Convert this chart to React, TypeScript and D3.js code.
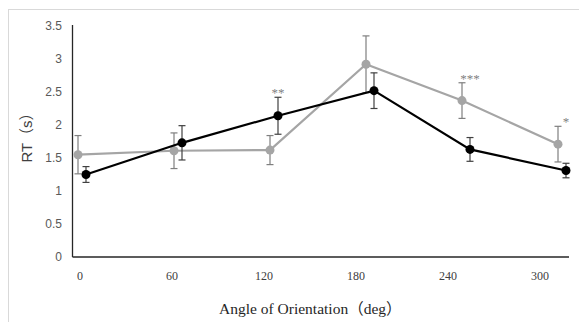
import * as d3 from "d3";
import React from "react";

// angle categories and tick labels
const angles = [0, 60, 120, 180, 240, 300];
const angleLabels = ["0", "60", "120", "180", "240", "300"];

// black series (mean RT and error)
const blackMeans = [1.25, 1.73, 2.14, 2.52, 1.63, 1.31];
const blackErr = [0.12, 0.26, 0.28, 0.27, 0.18, 0.11];

// grey series
const greyMeans = [1.55, 1.61, 1.62, 2.92, 2.37, 1.71];
const greyErr = [0.29, 0.27, 0.22, 0.43, 0.27, 0.27];

// significance marks
const sigAngles = [120, 240, 300];
const sigValues = [2.52, 2.73, 2.08];
const sigLabels = ["**", "***", "*"];

const yTicks = [0, 0.5, 1, 1.5, 2, 2.5, 3, 3.5];

const W = 579;
const H = 322;

const App: React.FC = () => {
  const plot = { left: 72.5, right: 569, top: 26, bottom: 257 };

  const y = d3.scaleLinear().domain([0, 3.5]).range([plot.bottom, plot.top]);
  const x = d3.scaleLinear().domain([0, 300]).range([82, 562]);
  const xLabel = d3.scalePoint<string>().domain(angleLabels).range([80, 540]);
  const shift = 2.5;

  const series = [
    { means: greyMeans, err: greyErr, dx: -shift, color: "#a5a5a5", errColor: "#7f7f7f" },
    { means: blackMeans, err: blackErr, dx: shift, color: "#000000", errColor: "#404040" },
  ];

  const line = d3
    .line<[number, number]>()
    .x((d) => x(d[0]))
    .y((d) => y(d[1]));

  return (
    <svg
      width={W}
      height={H}
      style={{ position: "absolute", left: 0, top: 0, background: "#fff" }}
    >
      <rect x={8.5} y={9.5} width={W} height={H} fill="#fff" stroke="#d9d9d9" />

      {/* y tick labels */}
      {yTicks.map((t) => (
        <text
          key={t}
          x={62}
          y={y(t)}
          dy="0.35em"
          textAnchor="end"
          fontFamily="Liberation Sans, Arial, sans-serif"
          fontSize={12}
          fill="#595959"
        >
          {t}
        </text>
      ))}

      {/* axes */}
      <line x1={plot.left} x2={plot.left} y1={plot.top - 1} y2={plot.bottom} stroke="#262626" strokeWidth={1.3} />
      <line x1={plot.left} x2={plot.right} y1={plot.bottom} y2={plot.bottom} stroke="#262626" strokeWidth={1.3} />

      {/* x tick labels */}
      {angleLabels.map((l) => (
        <text
          key={l}
          x={xLabel(l)}
          y={280}
          textAnchor="middle"
          fontFamily="Liberation Serif, Times New Roman, serif"
          fontSize={12}
          fill="#404040"
        >
          {l}
        </text>
      ))}

      {/* series */}
      {series.map((s, si) => {
        const pts: [number, number][] = angles.map((a, i) => [a + s.dx, s.means[i]]);
        return (
          <g key={si}>
            {pts.map((p, i) => {
              const cx = x(p[0]);
              const y1 = y(p[1] + s.err[i]);
              const y2 = y(p[1] - s.err[i]);
              return (
                <g key={i} stroke={s.errColor} strokeWidth={1.2}>
                  <line x1={cx} x2={cx} y1={y1} y2={y2} />
                  <line x1={cx - 3.5} x2={cx + 3.5} y1={y1} y2={y1} />
                  <line x1={cx - 3.5} x2={cx + 3.5} y1={y2} y2={y2} />
                </g>
              );
            })}
            <path d={line(pts) ?? ""} fill="none" stroke={s.color} strokeWidth={2.2} />
            {pts.map((p, i) => (
              <circle key={i} cx={x(p[0])} cy={y(p[1])} r={4.5} fill={s.color} />
            ))}
          </g>
        );
      })}

      {/* significance marks */}
      {sigAngles.map((a, i) => (
        <text
          key={a}
          x={x(a + shift)}
          y={y(sigValues[i]) + 6}
          textAnchor="middle"
          fontFamily="Liberation Serif, Times New Roman, serif"
          fontSize={13}
          fill="#7f7f7f"
        >
          {sigLabels[i]}
        </text>
      ))}

      {/* axis titles */}
      <text
        transform="translate(32, 134) rotate(-90)"
        textAnchor="middle"
        fontFamily="Liberation Sans, Noto Sans CJK SC, sans-serif"
        fontSize={15}
        fill="#404040"
      >
        RT（s）
      </text>
      <text
        x={219}
        y={314}
        textAnchor="start"
        fontFamily="Liberation Serif, Noto Sans CJK SC, serif"
        fontSize={15.5}
        fill="#262626"
      >
        Angle of Orientation（deg）
      </text>
    </svg>
  );
};

export default App;
